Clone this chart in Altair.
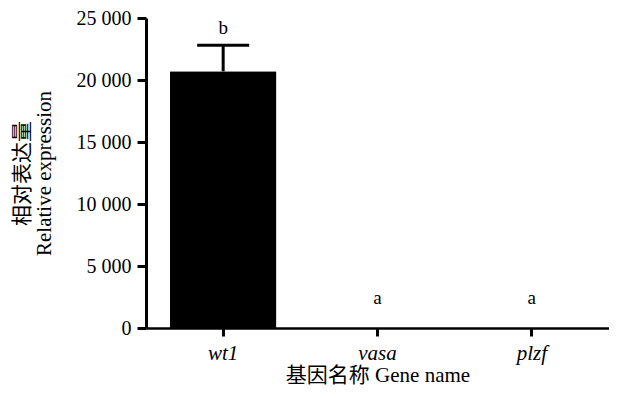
import altair as alt
import pandas as pd

genes = ["wt1", "vasa", "plzf"]
values = [20700, 0, 0]
errors = [2100, 0, 0]
letters = ["b", "a", "a"]

df = pd.DataFrame({"gene": genes, "value": values, "err": errors, "letter": letters})
df["upper"] = df["value"] + df["err"]

FONT = "Liberation Serif, Times New Roman, 'Noto Sans CJK SC', serif"

x = alt.X("gene:N", sort=genes,
          scale=alt.Scale(paddingInner=0.31, paddingOuter=0.155),
          axis=alt.Axis(title="基因名称 Gene name", labelAngle=0, labelFontStyle="italic",
                        labelFont=FONT, labelFontSize=21, titleFont=FONT, titleFontSize=21,
                        titleFontWeight="normal", labelColor="black", titleColor="black",
                        domainColor="black", domainWidth=2.5, tickColor="black", tickWidth=3,
                        tickSize=8, labelPadding=6, titlePadding=1, grid=False))

y_scale = alt.Scale(domain=[0, 25000], nice=False)

bars = alt.Chart(df).mark_bar(color="black", cornerRadius=1).encode(
    x=x,
    y=alt.Y("value:Q", scale=y_scale,
            axis=alt.Axis(title=["相对表达量", "Relative expression"], values=[0, 5000, 10000, 15000, 20000, 25000],
                          labelExpr="replace(format(datum.value, ','), ',', ' ')",
                          labelFont=FONT, labelFontSize=20, titleFont=FONT, titleFontSize=21,
                          titleFontWeight="normal", labelColor="black", titleColor="black",
                          domainColor="black", domainWidth=3, tickColor="black", tickWidth=3,
                          tickSize=9, labelPadding=6, grid=False, titlePadding=22,
                          titleLineHeight=22)),
)

err_df = df[df["err"] > 0]
rule = alt.Chart(err_df).mark_rule(color="black", strokeWidth=3).encode(
    x=alt.X("gene:N", sort=genes), y="value:Q", y2="upper:Q")
cap = alt.Chart(err_df).mark_tick(color="black", opacity=1, thickness=3, size=52, orient="horizontal").encode(
    x=alt.X("gene:N", sort=genes), y="upper:Q")

txt_hi = alt.Chart(df[df["err"] > 0]).mark_text(font=FONT, fontSize=19, color="black", baseline="middle", dy=-17).encode(
    x=alt.X("gene:N", sort=genes), y="upper:Q", text="letter:N")
txt_lo = alt.Chart(df[df["err"] == 0]).mark_text(font=FONT, fontSize=19, color="black", baseline="middle", dy=-30).encode(
    x=alt.X("gene:N", sort=genes), y="upper:Q", text="letter:N")

chart = alt.layer(bars, rule, cap, txt_hi, txt_lo).properties(
    width=463, height=310,
    background="white",
    autosize=alt.AutoSizeParams(type="none"),
    padding={"left": 138, "top": 10, "right": 0, "bottom": 60},
).configure_view(strokeWidth=0).configure_axis(grid=False)

chart.save("out.html", embed_options={"renderer": "svg", "actions": False})
